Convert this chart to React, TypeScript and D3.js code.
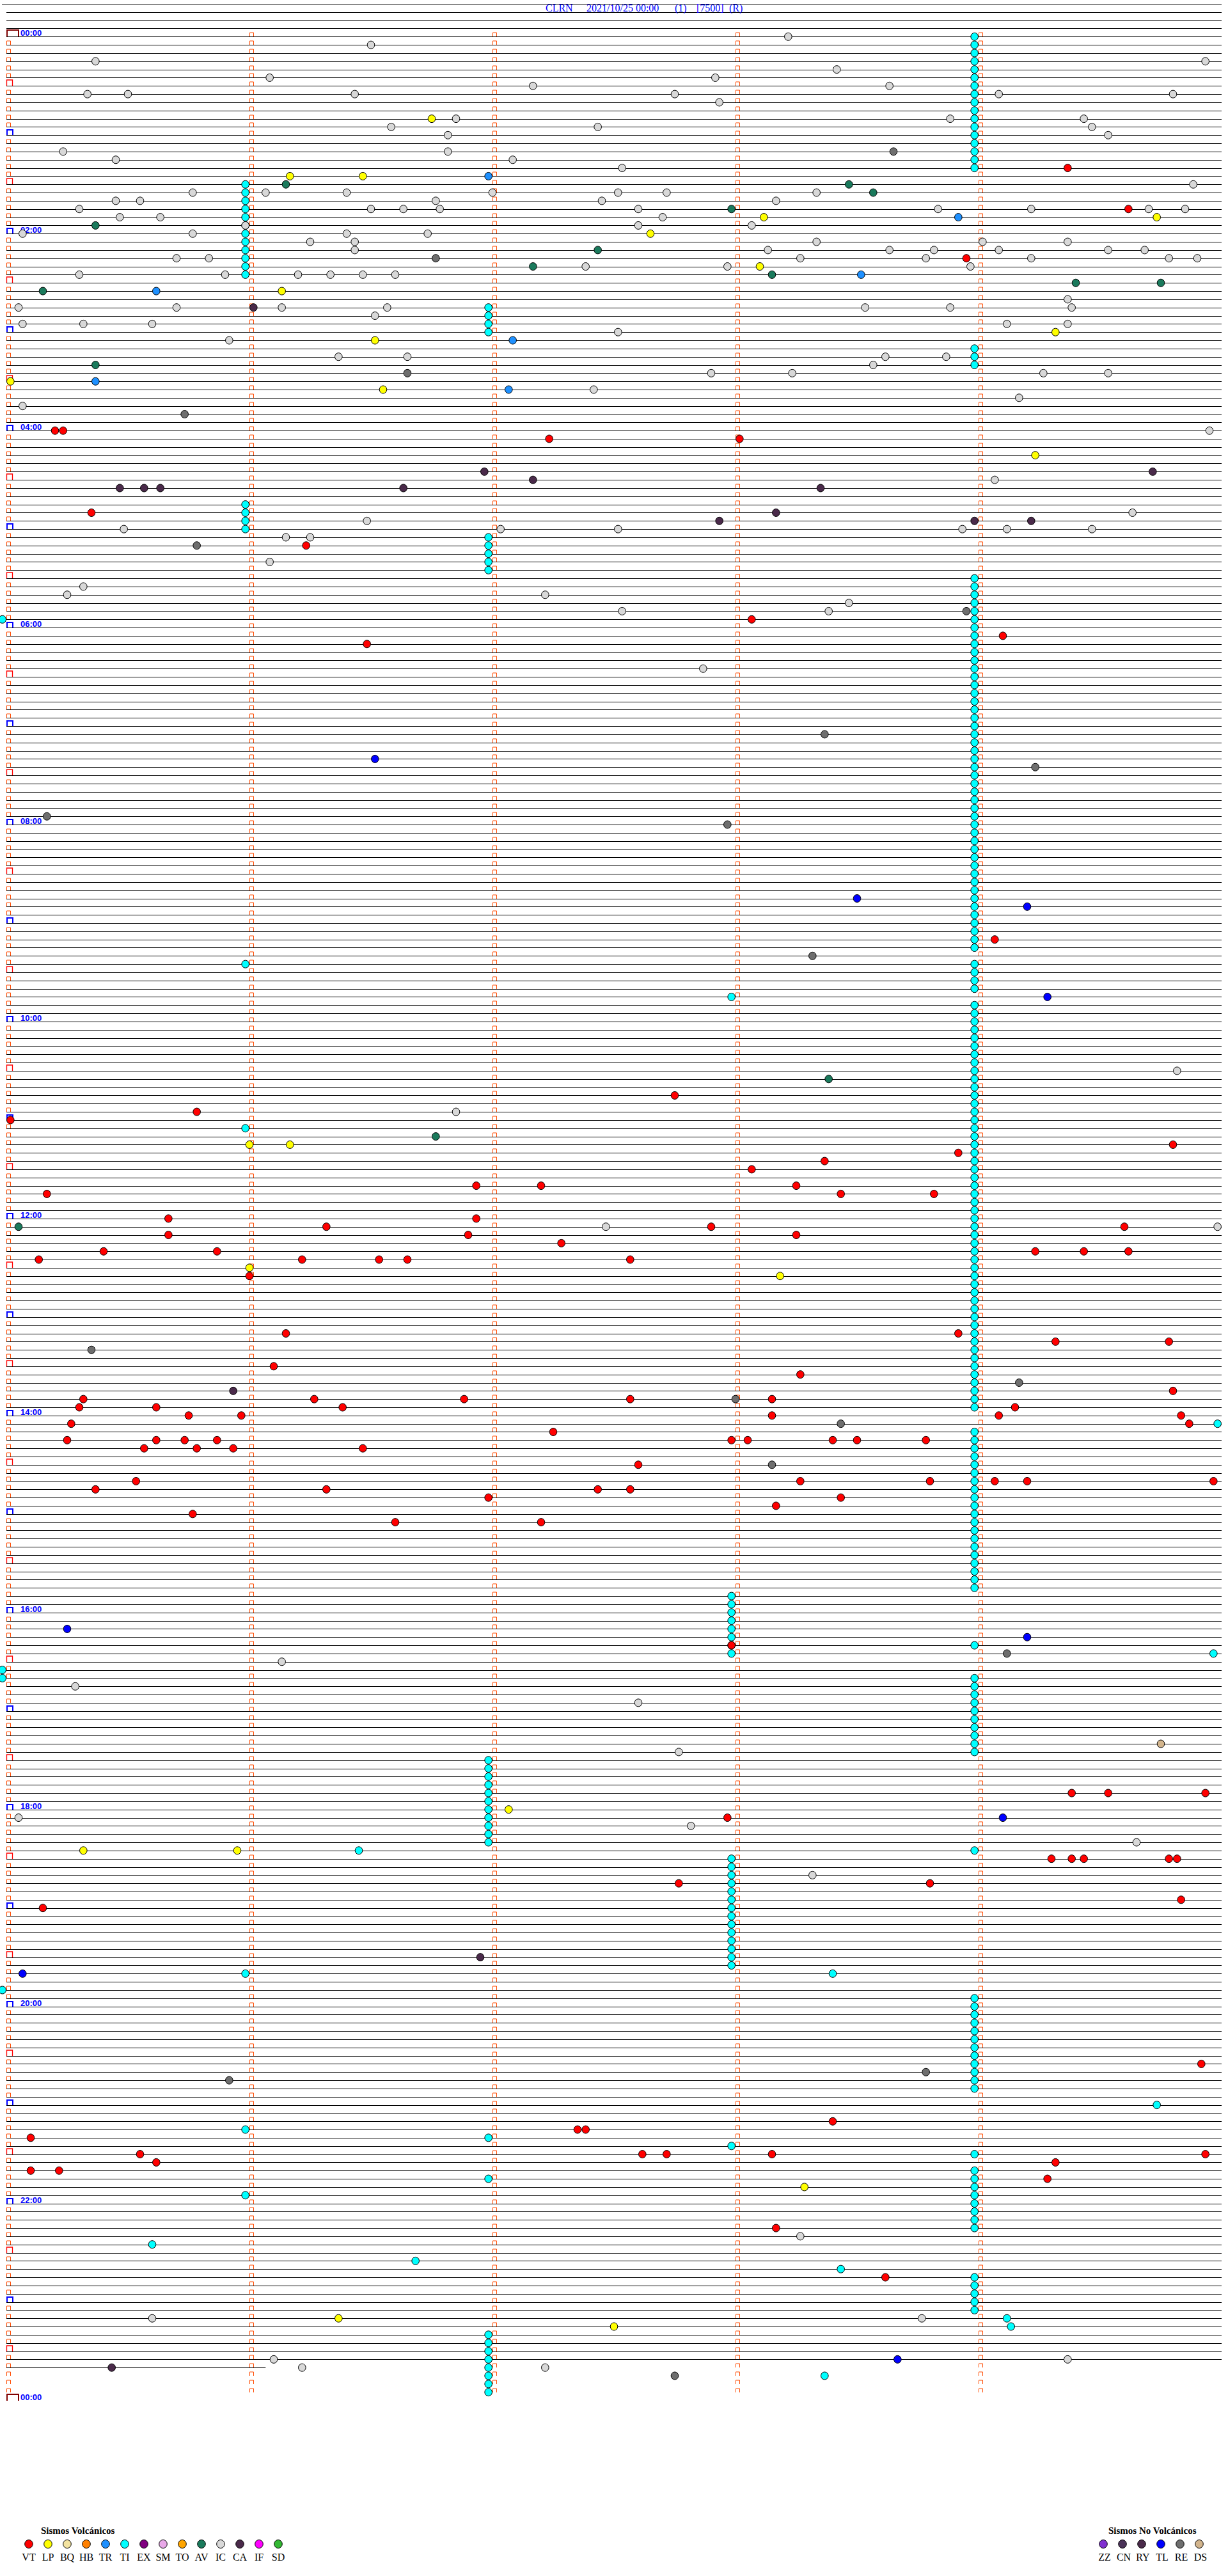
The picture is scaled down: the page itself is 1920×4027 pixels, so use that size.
import React from "react";
import * as d3 from "d3";

// ---------- layout constants ----------
const W = 1920;
const H = 4027;
const ROWS = 288; // 5-minute traces over 24 h
const TRACE_END_SEC = 64; // last trace (row 284) stops here

// ---------- event data: [row (5-min trace index), seconds into trace] ----------
const IC: [number, number][] = [
  [0,193],[1,90],[3,22],[3,296],[4,205],[5,65],[5,175],[6,130],[6,218],
  [7,20],[7,30],[7,86],[7,165],[7,245],[7,288],[8,176],
  [10,111],[10,233],[10,266],[11,95],[11,146],[11,268],[12,109],[12,272],
  [14,14],[14,109],[15,27],[15,125],[16,152],[18,293],
  [19,46],[19,64],[19,84],[19,120],[19,151],[19,163],[19,200],
  [20,27],[20,33],[20,106],[20,147],[20,190],
  [21,18],[21,90],[21,98],[21,107],[21,156],[21,230],[21,253],[21,282],[21,291],
  [22,28],[22,38],[22,162],[23,59],[23,156],[23,184],
  [24,4],[24,46],[24,84],[24,104],
  [25,75],[25,86],[25,200],[25,241],[25,262],
  [26,86],[26,188],[26,218],[26,229],[26,245],[26,272],[26,281],
  [27,42],[27,50],[27,196],[27,227],[27,253],[27,287],[27,294],
  [28,143],[28,178],[28,238],[29,18],[29,54],[29,72],[29,80],[29,88],[29,96],
  [32,262],[33,3],[33,42],[33,68],[33,94],[33,212],[33,233],[33,263],
  [34,91],[35,4],[35,19],[35,36],[35,247],[35,262],[36,151],[37,55],
  [39,82],[39,99],[39,217],[39,232],[40,214],
  [41,174],[41,194],[41,256],[41,272],[43,145],[44,250],[45,4],[48,297],[54,244],
  [58,278],[59,89],[60,29],[60,122],[60,151],[60,236],[60,247],[60,268],
  [61,69],[61,75],[64,65],[67,19],[68,15],[68,133],[69,208],[70,152],[70,203],
  [77,172],[126,289],[131,111],[145,148],[145,299],[198,68],[201,17],[203,156],
  [209,166],[217,3],[218,169],[220,279],[224,199],[268,196],[278,36],[278,226],
  [283,66],[283,262],[284,73],[284,133],
];
const VT: [number, number][] = [
  [16,262],[21,277],[27,237],[48,12],[48,14],[49,134],[49,181],
  [58,21],[62,74],[71,184],[73,246],[74,89],[110,244],[129,165],[131,47],[132,1],
  [135,288],[136,235],[137,202],[138,184],[140,116],[140,132],[140,195],
  [141,206],[141,229],[141,10],[144,116],[144,40],[145,79],[145,174],[145,276],
  [146,40],[146,195],[146,114],[147,137],
  [148,24],[148,52],[148,254],[148,266],[148,277],
  [149,8],[149,73],[149,92],[149,99],[149,154],[151,60],
  [158,235],[158,69],[159,259],[159,287],[162,66],[163,196],[165,288],
  [166,19],[166,76],[166,113],[166,154],[166,189],
  [167,18],[167,37],[167,83],[167,249],
  [168,45],[168,58],[168,189],[168,245],[168,290],[169,292],[169,16],[170,135],
  [171,15],[171,37],[171,44],[171,52],[171,179],[171,183],[171,204],[171,210],[171,227],
  [172,34],[172,47],[172,56],[172,88],[174,156],
  [176,32],[176,196],[176,228],[176,244],[176,252],[176,298],
  [177,22],[177,79],[177,146],[177,154],[178,119],[178,206],[179,190],
  [180,46],[181,96],[181,132],[196,179],
  [214,263],[214,272],[214,296],[217,178],
  [222,258],[222,263],[222,266],[222,287],[222,289],[225,166],[225,228],[227,290],[228,9],
  [247,295],[254,204],[255,141],[255,143],[256,6],
  [258,33],[258,157],[258,163],[258,189],[258,296],[259,37],[259,259],
  [260,6],[260,13],[261,257],[267,190],[273,217],
];
const LP: [number, number][] = [
  [10,105],[17,70],[17,88],[22,187],[22,284],[24,159],[28,186],[31,68],
  [36,259],[37,91],[42,1],[43,93],[51,254],
  [135,60],[135,70],[150,60],[151,191],[216,124],[221,19],[221,57],
  [262,197],[278,82],[279,150],
];
const AV: [number, number][] = [
  [18,69],[18,208],[19,214],[21,179],[23,22],[26,146],[28,130],[29,189],
  [30,264],[30,285],[31,9],[40,22],[127,203],[134,106],[145,3],
];
const TR: [number, number][] = [
  [17,119],[22,235],[29,211],[31,37],[37,125],[42,22],[43,124],
];
const CA: [number, number][] = [
  [33,61],[53,118],[53,283],[54,130],[55,28],[55,34],[55,38],[55,98],[55,201],
  [58,190],[59,176],[59,239],[59,253],[165,56],[234,117],[284,26],
];
const RE: [number, number][] = [
  [14,219],[27,106],[41,99],[46,44],[62,47],[70,237],[85,202],[89,254],
  [95,10],[96,178],[112,199],[160,21],[164,250],[166,180],[169,206],[174,189],
  [197,247],[248,227],[249,55],[285,165],
];
const TL: [number, number][] = [
  [88,91],[105,210],[106,252],[117,257],[194,15],[195,252],[217,246],[236,4],[283,220],
];
const DS: [number, number][] = [[208,285]];

// Tremor-type (TI) events: repeated every trace at the same second -> [second, firstRow, lastRow]
const TI_RUNS: [number, number, number][] = [
  [239,0,16],[59,18,29],[119,33,36],[239,38,40],[59,57,60],[119,61,65],
  [239,66,111],[59,113,113],[239,113,116],[179,117,117],[239,118,167],[59,133,133],
  [239,170,189],[179,190,197],[239,196,196],[239,200,209],[119,210,220],
  [239,221,221],[179,222,235],[59,236,236],[239,239,250],[59,255,255],
  [119,256,256],[179,257,257],[239,258,258],[239,260,267],[119,261,261],
  [59,263,263],[239,273,277],[119,280,287],
];
const TI_SINGLE: [number, number][] = [
  [71,-1],[169,299],[197,298],[199,-1],[200,-1],[221,87],[236,204],[238,-1],
  [252,284],[269,36],[271,101],[272,206],[278,247],[279,248],[285,202],
];

// ---------- legend ----------
const VOLC_CODES = ["VT","LP","BQ","HB","TR","TI","EX","SM","TO","AV","IC","CA","IF","SD"];
const VOLC_COLORS = ["#ff0000","#ffff00","#f3e3a0","#ff8000","#1e90ff","#00ffff","#800080",
  "#e8a8e8","#ffa500","#1a7a5c","#d8d8d8","#4a2a4a","#ff00ff","#33b833"];
const NOVOLC_CODES = ["ZZ","CN","RY","TL","RE","DS"];
const NOVOLC_COLORS = ["#8030d0","#4a3258","#4a2a4a","#0000ff","#6e6e6e","#d2b48c"];

const TITLE = { station: "CLRN", date: "2021/10/25 00:00", comp: "(1)", gain: "[7500]", mode: "(R)" };

const x = d3.scaleLinear().domain([0, 300]).range([10, 1910]);
const y = d3.scaleLinear().domain([0, ROWS]).range([57.3, 3752.5]);
const ry = (r: number) => Math.round(y(r)) + 0.5;

const tiEvents: [number, number][] = [];
TI_RUNS.forEach(([s, a, b]) => { for (let r = a; r <= b; r++) tiEvents.push([r, s]); });
TI_SINGLE.forEach((e) => tiEvents.push(e));

const layers: { color: string; data: [number, number][] }[] = [
  { color: "#00ffff", data: tiEvents },
  { color: "#d8d8d8", data: IC },
  { color: "#ffff00", data: LP },
  { color: "#1a7a5c", data: AV },
  { color: "#1e90ff", data: TR },
  { color: "#4a2a4a", data: CA },
  { color: "#6e6e6e", data: RE },
  { color: "#0000ff", data: TL },
  { color: "#d2b48c", data: DS },
  { color: "#ff0000", data: VT },
];

const pad = (n: number) => String(n).padStart(2, "0");

export default function App() {
  const lines: JSX.Element[] = [];
  for (let r = -4; r <= 284; r++) {
    const x0 = r === -4 ? 3 : 10;
    const x1 = r === 284 ? x(TRACE_END_SEC) : 1910;
    lines.push(<line key={"l" + r} x1={x0} x2={x1} y1={ry(r)} y2={ry(r)} stroke="#000" strokeWidth={1} />);
  }
  const ticks: JSX.Element[] = [];
  const tick = (k: string, px: number, py: number, w: number, h: number, c: string, sw: number) =>
    ticks.push(<path key={k} d={`M${px},${py}V${py - h}H${px + w}V${py}`} fill="none" stroke={c} strokeWidth={sw} />);
  for (let r = 0; r < ROWS; r++) {
    const py = Math.round(y(r));
    for (let m = 1; m <= 4; m++) tick(`t${r}_${m}`, Math.round(x(m * 60)) + 0.5, py, 6, 6, "#ff4a00", 1);
    if (r === 0) tick("b0", 11, py, 18, 10, "#800000", 2);
    else if (r % 12 === 0) tick("b" + r, 11, py, 9, 8, "#0000ff", 2);
    else if (r % 6 === 0) tick("b" + r, 10.5, py, 9, 9, "#ff0000", 1.3);
    else tick("b" + r, 10.5, py, 6, 6, "#ff4a00", 1);
  }
  tick("bend", 11, Math.round(y(ROWS)), 18, 10, "#800000", 2);

  const labels: JSX.Element[] = [];
  for (let h = 0; h <= 24; h += 2) {
    labels.push(
      <text key={"h" + h} x={32} y={Math.round(y(h * 12)) - 1} fontFamily="Liberation Sans, Arial, sans-serif"
        fontWeight="bold" fontSize={13} fill="#0000ff">{pad(h % 24)}:00</text>
    );
  }

  const dots: JSX.Element[] = [];
  layers.forEach((L, li) =>
    L.data.forEach(([r, s], i) =>
      dots.push(<ellipse key={`e${li}_${i}`} cx={x(s)} cy={y(r)} rx={5.8} ry={6} fill={L.color} stroke="#000" strokeWidth={1} />)
    )
  );

  const serif = "Liberation Serif, Times New Roman, serif";
  return (
    <svg width={W} height={H} style={{ display: "block", position: "absolute", left: 0, top: 0, background: "#fff" }}>
      <rect width={W} height={H} fill="#fff" />
      {lines}
      {ticks}
      <g fontFamily={serif} fontSize={16} fill="#0000ff">
        <text x={853} y={18}>{TITLE.station}</text>
        <text x={917} y={18}>{TITLE.date}</text>
        <text x={1055} y={18}>{TITLE.comp}</text>
        <text x={1089} y={18}>{TITLE.gain}</text>
        <text x={1140} y={18}>{TITLE.mode}</text>
      </g>
      {labels}
      {dots}
      <g fontFamily={serif}>
        <text x={64} y={3961} fontSize={15} fontWeight="bold">Sismos Volcánicos</text>
        {VOLC_CODES.map((c, i) => (
          <g key={c}>
            <ellipse cx={45 + i * 30} cy={3977} rx={6.3} ry={6.5} fill={VOLC_COLORS[i]} stroke="#000" />
            <text x={45 + i * 30} y={4003} fontSize={16} textAnchor="middle">{c}</text>
          </g>
        ))}
        <text x={1733} y={3961} fontSize={15} fontWeight="bold">Sismos No Volcánicos</text>
        {NOVOLC_CODES.map((c, i) => (
          <g key={c}>
            <ellipse cx={1725 + i * 30} cy={3977} rx={6.3} ry={6.5} fill={NOVOLC_COLORS[i]} stroke="#000" />
            <text x={1727 + i * 30} y={4003} fontSize={16} textAnchor="middle">{c}</text>
          </g>
        ))}
      </g>
    </svg>
  );
}
